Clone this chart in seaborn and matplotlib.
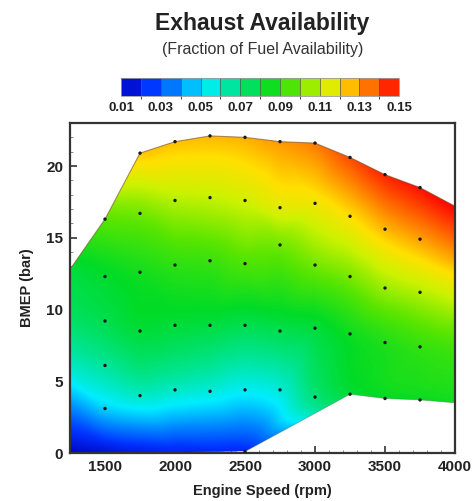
import numpy as np
import matplotlib
matplotlib.use('Agg')
import matplotlib.pyplot as plt
import matplotlib.tri as mtri
from matplotlib.path import Path
from matplotlib.patches import PathPatch
from matplotlib.colors import LinearSegmentedColormap, ListedColormap, BoundaryNorm
from matplotlib.ticker import MultipleLocator
import seaborn as sns

# ---------------- DATA ----------------
# measured operating points (engine speed rpm, BMEP bar, exhaust availability)
speed = [1500, 1500, 1500, 1500, 1500,
         1750, 1750, 1750, 1750, 1750,
         2000, 2000, 2000, 2000, 2000,
         2250, 2250, 2250, 2250, 2250,
         2500, 2500, 2500, 2500, 2500, 2500,
         2750, 2750, 2750, 2750, 2750,
         3000, 3000, 3000, 3000, 3000,
         3250, 3250, 3250, 3250, 3250,
         3500, 3500, 3500, 3500, 3500,
         3750, 3750, 3750, 3750, 3750]
bmep = [16.3, 12.3, 9.2, 6.1, 3.1,
        20.9, 16.7, 12.6, 8.5, 4.0,
        21.7, 17.6, 13.1, 8.9, 4.4,
        22.1, 17.8, 13.4, 8.9, 4.3,
        22.0, 17.6, 13.2, 8.9, 4.4, 0.1,
        21.7, 17.1, 14.5, 8.5, 4.4,
        21.6, 17.4, 13.1, 8.7, 3.9,
        20.6, 16.5, 12.3, 8.3, 4.1,
        19.4, 15.6, 11.5, 7.7, 3.8,
        18.5, 14.9, 11.2, 7.4, 3.7]
avail = [0.097, 0.082, 0.077, 0.066, 0.048,
         0.124, 0.100, 0.086, 0.080, 0.060,
         0.125, 0.108, 0.090, 0.080, 0.060,
         0.126, 0.110, 0.092, 0.079, 0.057,
         0.127, 0.112, 0.095, 0.077, 0.054, 0.022,
         0.130, 0.115, 0.100, 0.077, 0.058,
         0.134, 0.118, 0.100, 0.080, 0.071,
         0.140, 0.121, 0.101, 0.085, 0.080,
         0.145, 0.126, 0.105, 0.088, 0.083,
         0.148, 0.129, 0.108, 0.091, 0.084]

# extrapolated map edge (not plotted as dots)
edge_speed = [1250, 1250, 1250, 1250, 1250, 1500, 1750, 2000, 2250,
              4000, 4000, 4000, 4000, 4000]
edge_bmep = [0.0, 3.0, 6.0, 9.5, 12.8, 0.0, 0.0, 0.0, 0.0,
             17.2, 14.3, 11.0, 7.3, 3.5]
edge_avail = [0.012, 0.036, 0.060, 0.074, 0.080, 0.015, 0.018, 0.020, 0.021,
              0.150, 0.133, 0.112, 0.093, 0.085]

# outline of the operating map
outline_speed = [1250, 1250, 1500, 1750, 2000, 2250, 2500, 2750, 3000, 3250,
                 3500, 3750, 4000, 4000, 3750, 3500, 3250, 2500]
outline_bmep = [0.0, 12.8, 16.3, 20.9, 21.7, 22.1, 22.0, 21.7, 21.6, 20.6,
                19.4, 18.5, 17.2, 3.5, 3.7, 3.8, 4.1, 0.1]

cbar_ticks = [0.01, 0.03, 0.05, 0.07, 0.09, 0.11, 0.13, 0.15]

# ---------------- STYLE ----------------
sns.set_style('ticks')
plt.rcParams['font.family'] = ['Liberation Sans', 'DejaVu Sans']

cmap = LinearSegmentedColormap.from_list('avail', [
    (0.00, (0.0, 0.0, 0.75)),
    (0.10, (0.0, 0.2, 1.0)),
    (0.20, (0.0, 0.55, 1.0)),
    (0.30, (0.0, 0.93, 1.0)),
    (0.40, (0.0, 0.9, 0.6)),
    (0.52, (0.0, 0.86, 0.15)),
    (0.62, (0.35, 0.9, 0.0)),
    (0.72, (0.8, 0.95, 0.0)),
    (0.79, (1.0, 0.88, 0.0)),
    (0.88, (1.0, 0.5, 0.0)),
    (1.00, (1.0, 0.0, 0.0)),
])
vmin, vmax = 0.01, 0.15

fig = plt.figure(figsize=(4.73, 5.01), dpi=100)
ax = fig.add_axes([0.148, 0.0958, 0.814, 0.6587])

# ---------------- SURFACE ----------------
x = np.array(speed + edge_speed, dtype=float)
y = np.array(bmep + edge_bmep, dtype=float)
z = np.array(avail + edge_avail, dtype=float)

# triangulate in scaled coords so grid spacing is similar in both directions
tri_s = mtri.Triangulation(x / 250.0, y / 4.0)
tri = mtri.Triangulation(x, y, triangles=tri_s.triangles)
interp = mtri.CubicTriInterpolator(tri, z, kind='geom')

gx = np.linspace(1250, 4000, 700)
gy = np.linspace(0, 23, 600)
GX, GY = np.meshgrid(gx, gy)
GZ = interp(GX, GY)
GZ = np.ma.clip(GZ, vmin, vmax)

im = ax.imshow(GZ, origin='lower', extent=[1250, 4000, 0, 23], aspect='auto',
               cmap=cmap, vmin=vmin, vmax=vmax, interpolation='bilinear', zorder=1)
outline = Path(np.column_stack([outline_speed, outline_bmep]), closed=False)
patch = PathPatch(outline, facecolor='none', edgecolor='none')
ax.add_patch(patch)
im.set_clip_path(patch)

ax.plot(outline_speed[1:13], outline_bmep[1:13], color='#7a4a20', lw=0.8, alpha=0.6, zorder=2)
ax.plot(outline_speed[12:] + [2500], outline_bmep[12:] + [0.1], color='#557755', lw=0.6, alpha=0.5, zorder=2)

sns.scatterplot(x=speed, y=bmep, color='#1a1a1a', s=6, edgecolor='none', ax=ax, zorder=3, legend=False)

# ---------------- AXES ----------------
ax.set_xlim(1250, 4000)
ax.set_ylim(0, 23)
ax.set_xticks([1500, 2000, 2500, 3000, 3500, 4000])
ax.set_yticks([0, 5, 10, 15, 20])
ax.xaxis.set_minor_locator(MultipleLocator(100))
ax.yaxis.set_minor_locator(MultipleLocator(1))
ax.tick_params(which='major', direction='in', length=5, width=1.2, color='#333333',
               labelsize=11, pad=5)
ax.tick_params(which='minor', direction='in', length=2.5, width=0.6, color='#777777')
for lab in ax.get_xticklabels() + ax.get_yticklabels():
    lab.set_fontweight('bold')
    lab.set_color('#222222')
for sp in ax.spines.values():
    sp.set_visible(True)
    sp.set_color('#333333')
    sp.set_linewidth(1.6)
ax.set_xlabel('Engine Speed (rpm)', fontsize=10.5, fontweight='bold', color='#222222', labelpad=7)
ax.set_ylabel('BMEP (bar)', fontsize=10.5, fontweight='bold', color='#222222', labelpad=9)

# ---------------- COLORBAR ----------------
cax = fig.add_axes([0.256, 0.808, 0.588, 0.036])
bounds = np.linspace(vmin, vmax, 15)
seg_colors = cmap(np.linspace(0.5 / 14, 1 - 0.5 / 14, 14))
cb = fig.colorbar(plt.cm.ScalarMappable(norm=BoundaryNorm(bounds, 14), cmap=ListedColormap(seg_colors)),
                  cax=cax, orientation='horizontal', drawedges=True, ticks=cbar_ticks)
cb.dividers.set_color('#555555')
cb.dividers.set_linewidth(0.5)
cb.outline.set_edgecolor('#999999')
cb.outline.set_linewidth(0.6)
cb.ax.tick_params(length=0, labelsize=9.5, pad=4)
cb.ax.set_xticklabels(['%.2f' % t for t in cbar_ticks], fontweight='bold', color='#222222')

# ---------------- TITLES ----------------
fig.text(0.555, 0.954, 'Exhaust Availability', ha='center', va='center',
         fontsize=16.5, fontweight='bold', color='#222222')
fig.text(0.555, 0.902, '(Fraction of Fuel Availability)', ha='center', va='center',
         fontsize=11.5, color='#333333')

fig.savefig('out.png', dpi=100)
